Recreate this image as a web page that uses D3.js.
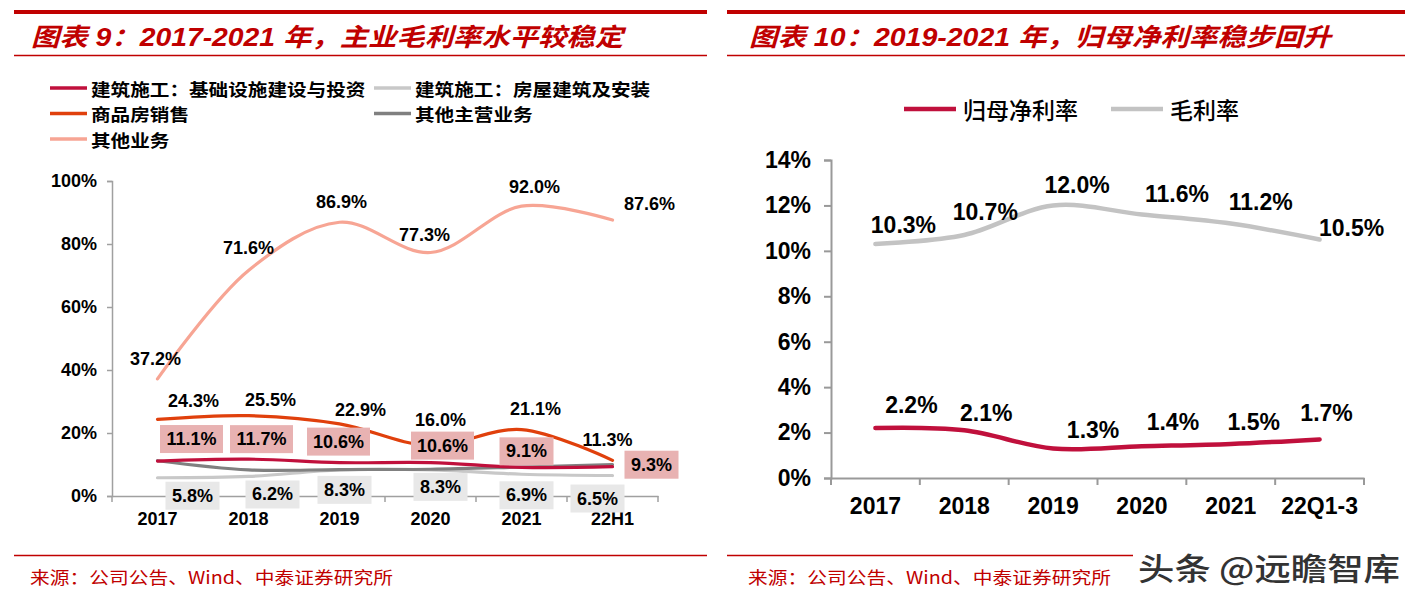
<!DOCTYPE html>
<html><head><meta charset="utf-8">
<script src="https://cdn.jsdelivr.net/npm/d3@7"></script>
<style>
body{margin:0;background:#fff;}
svg{display:block;}
</style></head><body>
<svg id="c" width="1411" height="603"></svg>
<script>
// ---------- data ----------
const leftCategories = ["2017","2018","2019","2020","2021","22H1"];
const infraValues      = [11.1, 11.7, 10.6, 10.6, 9.1, 9.3];   // 建筑施工：基础设施建设与投资
const housingValues    = [5.8, 6.2, 8.3, 8.3, 6.9, 6.5];       // 建筑施工：房屋建筑及安装
const realEstateValues = [24.3, 25.5, 22.9, 16.0, 21.1, 11.3]; // 商品房销售
const otherMainValues  = [11.2, 8.3, 8.4, 8.5, 9.2, 10.0];     // 其他主营业务
const otherValues      = [37.2, 71.6, 86.9, 77.3, 92.0, 87.6]; // 其他业务
const leftTicks = [0, 20, 40, 60, 80, 100];

const rightCategories = ["2017","2018","2019","2020","2021","22Q1-3"];
const netMarginValues   = [2.2, 2.1, 1.3, 1.4, 1.5, 1.7];       // 归母净利率
const grossMarginValues = [10.3, 10.7, 12.0, 11.6, 11.2, 10.5]; // 毛利率
const rightTicks = [0, 2, 4, 6, 8, 10, 12, 14];

const leftTitle = "图表 9：2017-2021 年，主业毛利率水平较稳定";
const rightTitle = "图表 10：2019-2021 年，归母净利率稳步回升";
const sourceText = "来源：公司公告、Wind、中泰证券研究所";
const watermark = "头条 @远瞻智库";

// ---------- layout ----------
const RED = "#C00000";
const LATIN = "'Liberation Sans', Arial, 'Noto Sans CJK SC', sans-serif";
const CJK = "'Noto Sans CJK SC', sans-serif";
const C_INFRA = "#C0103C", C_HOUSE = "#C8C8C8", C_RE = "#E0400C", C_OMAIN = "#808080", C_OTHER = "#F7A594";

const svg = d3.select("#c");

function header(x0, x1, title, tx, tw) {
  svg.append("rect").attr("x", x0).attr("y", 10).attr("width", x1 - x0).attr("height", 4).attr("fill", RED);
  svg.append("text").attr("x", tx).attr("y", 46).text(title)
    .attr("font-family", LATIN).attr("font-weight", "bold").attr("font-style", "italic")
    .attr("font-size", 25).attr("fill", RED)
    .attr("textLength", tw).attr("lengthAdjust", "spacingAndGlyphs");
  svg.append("line").attr("x1", x0).attr("x2", x1).attr("y1", 55.5).attr("y2", 55.5)
    .attr("stroke", RED).attr("stroke-width", 1.5);
}
function footer(x0, x1, tx) {
  svg.append("line").attr("x1", x0).attr("x2", x1).attr("y1", 555.5).attr("y2", 555.5)
    .attr("stroke", RED).attr("stroke-width", 1.5);
  svg.append("text").attr("x", tx).attr("y", 584).text(sourceText)
    .attr("font-family", CJK).attr("font-size", 17).attr("fill", RED)
    .attr("textLength", 363).attr("lengthAdjust", "spacingAndGlyphs");
}

header(14, 707, leftTitle, 31, 592);
header(727, 1405, rightTitle, 749, 582);
footer(14, 707, 30);
footer(727, 1133, 748);

svg.append("text").attr("x", 1138).attr("y", 580).text(watermark)
  .attr("font-family", CJK).attr("font-weight", 500).attr("font-size", 31).attr("fill", "#333")
  .attr("stroke", "#fff").attr("stroke-width", 2).attr("paint-order", "stroke")
  .attr("textLength", 262).attr("lengthAdjust", "spacingAndGlyphs");

// ---------- left chart ----------
const xL = d3.scaleBand().domain(leftCategories).range([112, 658]).padding(0);
const yL = d3.scaleLinear().domain([0, 100]).range([496, 181]);
const cxL = c => xL(c) + xL.bandwidth() / 2;
const smooth = d3.curveCatmullRom.alpha(0.5);

const gL = svg.append("g");
const yAxL = gL.append("g").attr("transform", "translate(112,0)")
  .call(d3.axisLeft(yL).tickValues(leftTicks).tickSize(5).tickPadding(10).tickFormat(d => d + "%"));
yAxL.select(".domain").attr("stroke", "#A0A0A0").attr("stroke-width", 1.5);
yAxL.selectAll(".tick line").attr("stroke", "#A0A0A0").attr("stroke-width", 1.5);
yAxL.selectAll(".tick text").attr("font-family", LATIN).attr("font-weight", "bold").attr("font-size", 18).attr("fill", "#000");
const xAxL = gL.append("g").attr("transform", "translate(0,496)")
  .call(d3.axisBottom(xL).tickSize(0).tickSizeOuter(0).tickPadding(16));
xAxL.select(".domain").attr("stroke", "#A0A0A0").attr("stroke-width", 1.5);
xAxL.selectAll(".tick text").attr("font-family", LATIN).attr("font-weight", "bold").attr("font-size", 18).attr("fill", "#000");
gL.selectAll("line.bt").data(d3.range(leftCategories.length + 1)).join("line").attr("class", "bt")
  .attr("x1", i => xL.range()[0] + i * xL.step()).attr("x2", i => xL.range()[0] + i * xL.step())
  .attr("y1", 496).attr("y2", 502).attr("stroke", "#A0A0A0").attr("stroke-width", 1.5);

const lineL = d3.line().x((d, i) => cxL(leftCategories[i])).y(d => yL(d)).curve(smooth);
[[housingValues, C_HOUSE], [otherMainValues, C_OMAIN], [infraValues, C_INFRA], [realEstateValues, C_RE], [otherValues, C_OTHER]]
  .forEach(([vals, col]) => {
    gL.append("path").attr("d", lineL(vals)).attr("fill", "none").attr("stroke", col)
      .attr("stroke-width", 3.2).attr("stroke-linecap", "round");
  });

function labels(g, cats, vals, offs, cx, y, fs, boxFill) {
  cats.forEach((c, i) => {
    const x = cx(c) + offs[i][0], yy = y(vals[i]) + offs[i][1];
    const t = vals[i].toFixed(1) + "%";
    if (boxFill) {
      const w = t.length === 5 ? 63 : 54;
      g.append("rect").attr("x", x - w / 2).attr("y", yy - 14).attr("width", w).attr("height", 28).attr("fill", boxFill);
    }
    g.append("text").attr("x", x).attr("y", yy).attr("text-anchor", "middle").attr("dominant-baseline", "central")
      .attr("font-family", LATIN).attr("font-weight", "bold").attr("font-size", fs).attr("fill", "#000").text(t);
  });
}
const offOther = [[-2,-20],[0,-22],[2,-20],[-6,-18],[13,-19],[37,-16]];
const offRE    = [[36,-18],[22,-16],[21,-14],[10,-26],[14,-21],[-5,-20]];
const offInfra = [[34,-22],[13,-20],[-1,-21],[12,-17],[5,-16],[39,-2]];
const offHouse = [[35,18],[24,18],[5,20],[10,17],[5,21],[-15,23]];
labels(gL, leftCategories, otherValues, offOther, cxL, yL, 18, null);
labels(gL, leftCategories, realEstateValues, offRE, cxL, yL, 18, null);
labels(gL, leftCategories, infraValues, offInfra, cxL, yL, 18, "#E8B2B2");
labels(gL, leftCategories, housingValues, offHouse, cxL, yL, 18, "#E8E8E8");

// left legend
const legL = [
  ["建筑施工：基础设施建设与投资", C_INFRA, 50, 88],
  ["建筑施工：房屋建筑及安装", C_HOUSE, 374, 88],
  ["商品房销售", C_RE, 50, 113.5],
  ["其他主营业务", C_OMAIN, 374, 113.5],
  ["其他业务", C_OTHER, 50, 139]
];
legL.forEach(([name, col, x, y]) => {
  gL.append("line").attr("x1", x).attr("x2", x + 37).attr("y1", y).attr("y2", y).attr("stroke", col).attr("stroke-width", 3.5);
  gL.append("text").attr("x", x + 41).attr("y", y).attr("dominant-baseline", "central")
    .attr("font-family", CJK).attr("font-weight", "bold").attr("font-size", 17.5).attr("fill", "#000")
    .attr("textLength", name.length * 19.6).attr("lengthAdjust", "spacingAndGlyphs").text(name);
});

// ---------- right chart ----------
const xR = d3.scaleBand().domain(rightCategories).range([831, 1364]).padding(0);
const yR = d3.scaleLinear().domain([0, 14]).range([478, 160]);
const cxR = c => xR(c) + xR.bandwidth() / 2;
const gR = svg.append("g");
const yAxR = gR.append("g").attr("transform", "translate(831,0)")
  .call(d3.axisLeft(yR).tickValues(rightTicks).tickSize(7).tickPadding(13).tickFormat(d => d + "%"));
yAxR.select(".domain").attr("stroke", "#999").attr("stroke-width", 2);
yAxR.selectAll(".tick line").attr("stroke", "#999").attr("stroke-width", 2);
yAxR.selectAll(".tick text").attr("font-family", LATIN).attr("font-weight", "bold").attr("font-size", 23).attr("fill", "#000");
const xAxR = gR.append("g").attr("transform", "translate(0,478)")
  .call(d3.axisBottom(xR).tickSize(0).tickSizeOuter(0).tickPadding(20));
xAxR.select(".domain").attr("stroke", "#999").attr("stroke-width", 2);
xAxR.selectAll(".tick text").attr("font-family", LATIN).attr("font-weight", "bold").attr("font-size", 23).attr("fill", "#000");
gR.selectAll("line.bt").data(d3.range(rightCategories.length + 1)).join("line").attr("class", "bt")
  .attr("x1", i => xR.range()[0] + i * xR.step()).attr("x2", i => xR.range()[0] + i * xR.step())
  .attr("y1", 478).attr("y2", 485).attr("stroke", "#999").attr("stroke-width", 2);

const lineR = d3.line().x((d, i) => cxR(rightCategories[i])).y(d => yR(d)).curve(smooth);
gR.append("path").attr("d", lineR(grossMarginValues)).attr("fill", "none").attr("stroke", "#C3C3C3").attr("stroke-width", 4.5).attr("stroke-linecap", "round");
gR.append("path").attr("d", lineR(netMarginValues)).attr("fill", "none").attr("stroke", C_INFRA).attr("stroke-width", 4.5).attr("stroke-linecap", "round");

const offGross = [[28,-19],[21,-23],[24,-20],[35,-21],[30,-22],[32,-12]];
const offNet   = [[36,-23],[22,-17],[40,-18],[31,-24],[23,-22],[7,-26]];
labels(gR, rightCategories, grossMarginValues, offGross, cxR, yR, 23, null);
labels(gR, rightCategories, netMarginValues, offNet, cxR, yR, 23, null);

const legR = [["归母净利率", C_INFRA, 904, 109], ["毛利率", "#C3C3C3", 1111, 109]];
legR.forEach(([name, col, x, y]) => {
  gR.append("line").attr("x1", x).attr("x2", x + 52).attr("y1", y).attr("y2", y).attr("stroke", col).attr("stroke-width", 4.5);
  gR.append("text").attr("x", x + 59).attr("y", y).attr("dominant-baseline", "central")
    .attr("font-family", CJK).attr("font-weight", 500).attr("font-size", 23).attr("fill", "#000").text(name);
});
</script>
</body></html>
